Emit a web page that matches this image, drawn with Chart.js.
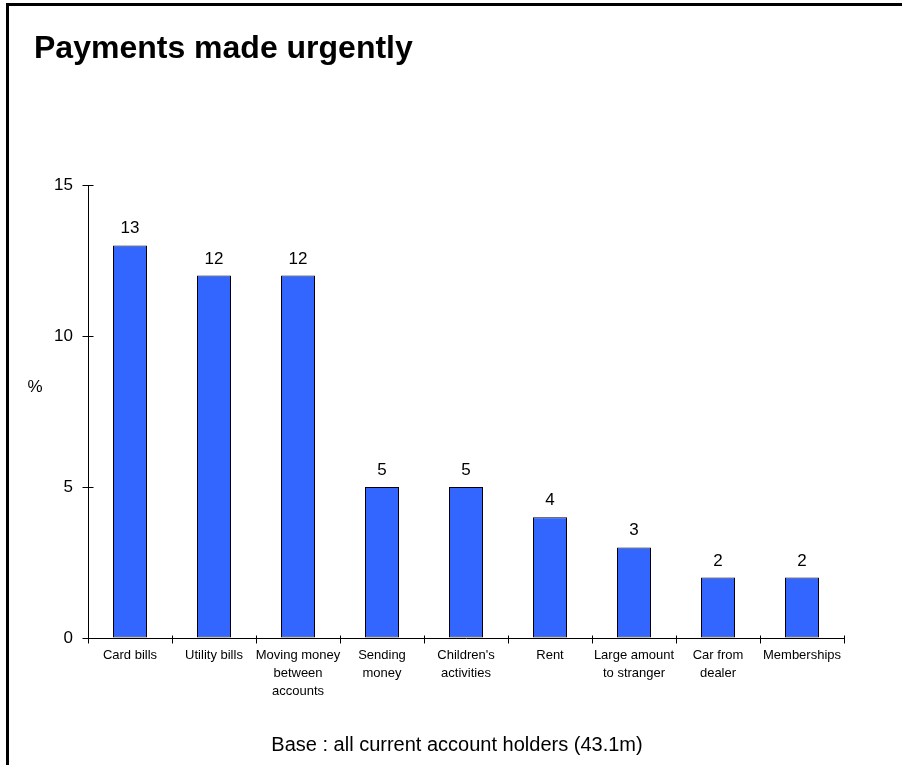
<!DOCTYPE html>
<html>
<head>
<meta charset="utf-8">
<title>Payments made urgently</title>
<script src="https://cdn.jsdelivr.net/npm/chart.js@4/dist/chart.umd.min.js"></script>
<style>
    body { margin: 0; background: #fff; overflow: hidden; }
    .frame {
        position: absolute; left: 6px; top: 3px;
        width: 1000px; height: 1000px;
        border: 3px solid #000;
    }
    #paymentsChart { position: absolute; left: 0; top: 0; }
</style>
</head>
<body>
<div class="frame"></div>
<canvas id="paymentsChart" width="902" height="765"></canvas>
<script>
// Categories (multi-line labels) and the share of account holders, in %
const categories = [
    ['Card bills'],
    ['Utility bills'],
    ['Moving money', 'between', 'accounts'],
    ['Sending', 'money'],
    ["Children's", 'activities'],
    ['Rent'],
    ['Large amount', 'to stranger'],
    ['Car from', 'dealer'],
    ['Memberships']
];
const values = [13, 12, 12, 5, 5, 4, 3, 2, 2];
const yTickValues = [0, 5, 10, 15];

const titleText = 'Payments made urgently';
const axisUnit = '%';
const footerText = 'Base : all current account holders (43.1m)';

const fontFamily = "'Liberation Sans', Arial, Helvetica, sans-serif";
Chart.defaults.font.family = fontFamily;
Chart.defaults.color = '#000';

// Title, unit label and base note
const textPlugin = {
    id: 'textPlugin',
    afterDraw(chart) {
        const ctx = chart.ctx;
        ctx.save();
        ctx.fillStyle = '#000';
        ctx.textBaseline = 'alphabetic';

        ctx.font = 'bold 32px ' + fontFamily;
        ctx.textAlign = 'left';
        ctx.fillText(titleText, 34, 58);

        ctx.font = '17px ' + fontFamily;
        ctx.textAlign = 'center';
        ctx.fillText(axisUnit, 35, 392);

        ctx.font = '20px ' + fontFamily;
        ctx.fillText(footerText, 457, 751);
        ctx.restore();
    }
};

// Tick marks that cross both axes
const crossTicks = {
    id: 'crossTicks',
    afterDraw(chart) {
        const ctx = chart.ctx;
        const x = chart.scales.x;
        const y = chart.scales.y;
        const axisX = Math.round(chart.chartArea.left) + 0.5;
        const axisY = Math.round(chart.chartArea.bottom) + 0.5;
        ctx.save();
        ctx.strokeStyle = '#000';
        ctx.lineWidth = 1;
        ctx.beginPath();
        yTickValues.forEach(v => {
            const py = Math.round(y.getPixelForValue(v)) + 0.5;
            ctx.moveTo(axisX - 6, py);
            ctx.lineTo(axisX + 5, py);
        });
        const half = (x.getPixelForValue(1) - x.getPixelForValue(0)) / 2;
        for (let i = 0; i <= categories.length; i++) {
            const px = Math.round(x.getPixelForValue(i) - half) + 0.5;
            ctx.moveTo(px, axisY - 3);
            ctx.lineTo(px, axisY + 5);
        }
        ctx.stroke();
        ctx.restore();
    }
};

// Value printed above each bar
const barValues = {
    id: 'barValues',
    afterDatasetsDraw(chart) {
        const ctx = chart.ctx;
        const meta = chart.getDatasetMeta(0);
        ctx.save();
        ctx.font = '17px ' + fontFamily;
        ctx.fillStyle = '#000';
        ctx.textAlign = 'center';
        ctx.textBaseline = 'alphabetic';
        meta.data.forEach((bar, i) => {
            ctx.fillText(String(values[i]), bar.x, bar.y - 12);
        });
        ctx.restore();
    }
};

const ctx = document.getElementById('paymentsChart').getContext('2d');
new Chart(ctx, {
    type: 'bar',
    data: {
        labels: categories,
        datasets: [{
            data: values,
            backgroundColor: '#3366FF',
            borderColor: '#000',
            borderWidth: 1,
            borderSkipped: false,
            categoryPercentage: 1,
            barPercentage: 34 / 84
        }]
    },
    options: {
        responsive: false,
        animation: false,
        layout: {
            padding: { left: 0, right: 58, top: 185, bottom: 0 }
        },
        plugins: {
            legend: { display: false },
            title: { display: false },
            tooltip: { enabled: false }
        },
        scales: {
            x: {
                grid: { display: true, drawOnChartArea: false, drawTicks: false },
                border: { display: true, color: '#000', width: 1 },
                ticks: {
                    autoSkip: false,
                    maxRotation: 0,
                    padding: 9,
                    font: { size: 13, lineHeight: 1.36 },
                    color: '#000'
                },
                afterFit(scale) { scale.height = 127; }
            },
            y: {
                min: 0,
                max: 15,
                grid: { display: true, drawOnChartArea: false, drawTicks: false },
                border: { display: true, color: '#000', width: 1 },
                afterBuildTicks(scale) {
                    scale.ticks = yTickValues.map(v => ({ value: v }));
                },
                ticks: {
                    padding: 15,
                    font: { size: 17 },
                    color: '#000'
                },
                afterFit(scale) { scale.width = 88; }
            }
        }
    },
    plugins: [barValues, crossTicks, textPlugin]
});
</script>
</body>
</html>
